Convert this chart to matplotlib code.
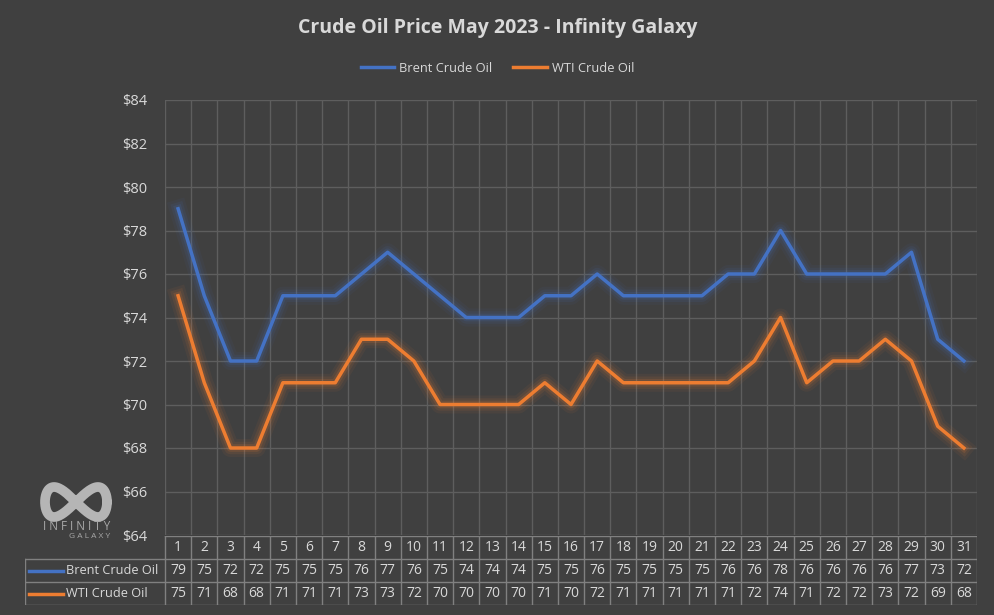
import numpy as np
import matplotlib.pyplot as plt
from matplotlib.ticker import FixedLocator, FuncFormatter

days = list(range(1, 32))
brent = [79, 75, 72, 72, 75, 75, 75, 76, 77, 76, 75, 74, 74, 74, 75, 75,
         76, 75, 75, 75, 75, 76, 76, 78, 76, 76, 76, 76, 77, 73, 72]
wti = [75, 71, 68, 68, 71, 71, 71, 73, 73, 72, 70, 70, 70, 70, 71, 70,
       72, 71, 71, 71, 71, 71, 72, 74, 71, 72, 72, 73, 72, 69, 68]
series_names = ["Brent Crude Oil", "WTI Crude Oil"]
series_colors = ["#4472C4", "#ED7D31"]
y_ticks = list(range(64, 85, 2))

BG = "#404040"
TXT = "#d9d9d9"
GRID = "#5e5e5e"
TBL = "#808080"
W, H = 995, 615

plt.rcParams["font.family"] = ["Open Sans", "DejaVu Sans"]

fig = plt.figure(figsize=(W / 100, H / 100), dpi=100, facecolor=BG)


def px_box(x0, y0, x1, y1):
    return [x0 / W, 1 - y1 / H, (x1 - x0) / W, (y1 - y0) / H]


ax = fig.add_axes(px_box(165, 100, 977, 535))
ax.set_facecolor(BG)

for vals, color, name in zip([brent, wti], series_colors, series_names):
    # soft glow behind each line
    ax.plot(days, vals, color=color, lw=13, alpha=0.06, solid_joinstyle="round")
    ax.plot(days, vals, color=color, lw=9, alpha=0.09, solid_joinstyle="round")
    ax.plot(days, vals, color=color, lw=5.5, alpha=0.15, solid_joinstyle="round")
    ax.plot(days, vals, color=color, lw=2.5, label=name, solid_joinstyle="round")

ax.set_xlim(0.5, 31.5)
ax.set_ylim(64, 84)
ax.yaxis.set_major_locator(FixedLocator(y_ticks))
ax.yaxis.set_major_formatter(FuncFormatter(lambda v, p: f"${v:.0f}"))
ax.xaxis.set_major_locator(FixedLocator(np.arange(0.5, 32, 1)))
ax.set_xticklabels([])
ax.grid(True, color=GRID, lw=1)
ax.tick_params(length=0, colors=TXT, labelsize=10.5, pad=13)
for s in ax.spines.values():
    s.set_visible(False)

fig.text(0.5, 1 - 28 / H, "Crude Oil Price May 2023 - Infinity Galaxy",
         ha="center", va="center", color=TXT, fontsize=14, fontweight="bold")

leg = fig.legend(loc="center", bbox_to_anchor=(0.5, 1 - 68 / H), ncol=2,
                 frameon=False, fontsize=9.3, labelcolor=TXT, handlelength=2.6,
                 handletextpad=0.4, columnspacing=1.6)
for h in leg.get_lines():
    h.set_linewidth(2.5)

# data table under the plot
unit = (977 - 165) / 31
tab = fig.add_axes(px_box(25, 536, 977, 605))
x_left = 0.5 - 140 / unit
tab.set_xlim(x_left, 31.5)
tab.set_ylim(3, 0)
tab.axis("off")
tab.plot([0.5, 31.5], [0, 0], color=TBL, lw=1)
for r in [1, 2, 3]:
    tab.plot([x_left, 31.5], [r, r], color=TBL, lw=1)
tab.plot([x_left, x_left], [1, 3], color=TBL, lw=1)
for c in np.arange(0.5, 32, 1):
    tab.plot([c, c], [0, 3], color=TBL, lw=1)
for d in days:
    tab.text(d, 0.5, str(d), ha="center", va="center", color=TXT, fontsize=10)
for row, vals in enumerate([brent, wti], start=1):
    for d, v in zip(days, vals):
        tab.text(d, row + 0.5, str(v), ha="center", va="center", color=TXT, fontsize=10)
for row, (name, color) in enumerate(zip(series_names, series_colors), start=1):
    tab.plot([x_left + 4 / unit, x_left + 38 / unit], [row + 0.5, row + 0.5],
             color=color, lw=2.5)
    tab.text(x_left + 41 / unit, row + 0.5, name, ha="left", va="center",
             color=TXT, fontsize=9.2)

# logo
lg = fig.add_axes(px_box(30, 480, 125, 545))
lg.set_xlim(0, 95)
lg.set_ylim(65, 0)
lg.axis("off")
t = np.linspace(0, 2 * np.pi, 300)
lg.plot(46 + 31 * np.cos(t), 22 + 15 * np.sin(2 * t), color="#b5b5b5", lw=7,
        solid_capstyle="round")
lg.text(47, 47, "I N F I N I T Y", ha="center", va="center", color="#a8a8a8",
        fontsize=8.5)
lg.text(60, 56, "G A L A X Y", ha="center", va="center", color="#a8a8a8",
        fontsize=6)

fig.savefig("out.png", dpi=100, facecolor=BG)
